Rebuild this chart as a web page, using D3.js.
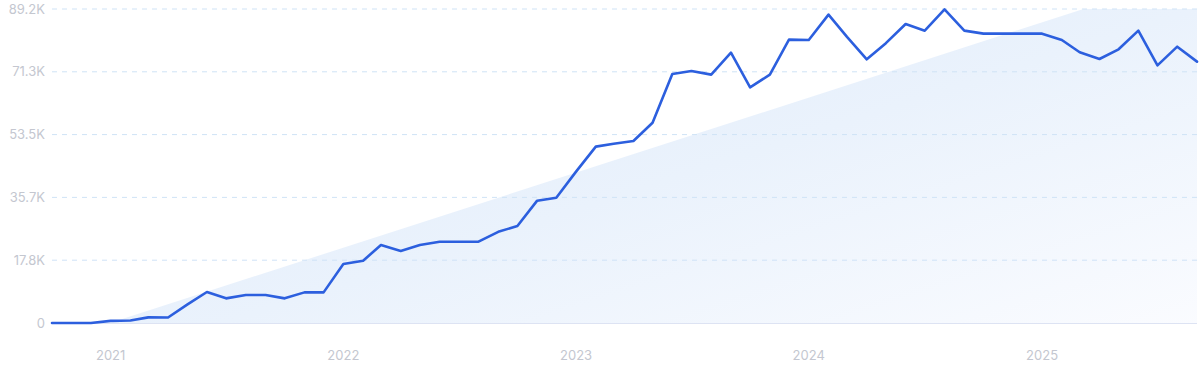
<!DOCTYPE html>
<html lang="en">
<head>
    <meta charset="UTF-8">
    <title>Trend chart</title>
    <script src="https://d3js.org/d3.v7.min.js"></script>
    <style>
        body {
            margin: 0;
            background: #fff;
            font-family: Inter, "Noto Sans", Arial, sans-serif;
        }
        .tick-label {
            fill: #c4c7d0;
            font-size: 13px;
        }
    </style>
</head>
<body>
    <div id="chart"></div>

    <script>
        // monthly values, Oct 2020 .. Sep 2025
        const startMonth = new Date(2020, 9, 1);
        const values = [
            0, 0, 0,
            600, 700, 1600, 1550, 5200, 8800, 7000, 7950, 7950, 7000, 8700, 8700,
            16760, 17700, 22150, 20450, 22150, 23100, 23100, 23100, 25900, 27550, 34750, 35600,
            43000, 50100, 50900, 51700, 56900, 70750, 71600, 70550, 76800, 66950, 70550, 80500,
            80400, 87600, 81300, 74900, 79500, 84950, 83050, 89100, 83050, 82200, 82200, 82200,
            82200, 80400, 76900, 75000, 77750, 83050, 73200, 78500, 74250
        ];
        // trend line endpoints (first and last month)
        const trendValues = [-5300, 99600];
        const yTicks = [0, 17840, 35680, 53520, 71360, 89200];
        const yTickLabels = ["0", "17.8K", "35.7K", "53.5K", "71.3K", "89.2K"];
        const xYears = [2021, 2022, 2023, 2024, 2025];

        const width = 1200, height = 372;
        const margin = {top: 9, right: 3, bottom: 49, left: 52};
        const innerW = width - margin.left - margin.right;
        const innerH = height - margin.top - margin.bottom;

        const data = values.map((v, i) => ({
            date: d3.timeMonth.offset(startMonth, i),
            value: v
        }));
        const lastDate = data[data.length - 1].date;

        const x = d3.scaleTime()
            .domain([startMonth, lastDate])
            .range([0, innerW]);
        const y = d3.scaleLinear()
            .domain([0, 89200])
            .range([innerH, 0]);

        const svg = d3.select("#chart")
            .append("svg")
            .attr("width", width)
            .attr("height", height);

        const defs = svg.append("defs");
        defs.append("clipPath").attr("id", "plot-clip")
            .append("rect")
            .attr("width", innerW)
            .attr("height", innerH);

        const grad = defs.append("linearGradient")
            .attr("id", "trend-grad")
            .attr("x1", "0").attr("y1", "0")
            .attr("x2", "1").attr("y2", "1");
        grad.append("stop").attr("offset", "0%").attr("stop-color", "#dde9fa");
        grad.append("stop").attr("offset", "55%").attr("stop-color", "#eaf2fc");
        grad.append("stop").attr("offset", "100%").attr("stop-color", "#fbfcff");

        const g = svg.append("g")
            .attr("transform", `translate(${margin.left},${margin.top})`);

        // trend area
        const trend = [
            {date: startMonth, value: trendValues[0]},
            {date: lastDate, value: trendValues[1]}
        ];
        g.append("path")
            .datum(trend)
            .attr("clip-path", "url(#plot-clip)")
            .attr("fill", "url(#trend-grad)")
            .attr("d", d3.area()
                .x(d => x(d.date))
                .y0(y(0))
                .y1(d => y(d.value)));

        // gridlines
        g.append("g")
            .selectAll("line")
            .data(yTicks.slice(1))
            .enter()
            .append("line")
            .attr("x1", 0)
            .attr("x2", innerW)
            .attr("y1", d => y(d))
            .attr("y2", d => y(d))
            .attr("stroke", "#cfe3f6")
            .attr("stroke-width", 1)
            .attr("stroke-dasharray", "5,5");

        // baseline
        g.append("line")
            .attr("x1", 0)
            .attr("x2", innerW)
            .attr("y1", y(0) + 0.5)
            .attr("y2", y(0) + 0.5)
            .attr("stroke", "#dde3f3")
            .attr("stroke-width", 1);

        // y labels
        g.append("g")
            .selectAll("text")
            .data(yTicks)
            .enter()
            .append("text")
            .attr("class", "tick-label")
            .attr("x", -7)
            .attr("y", d => y(d))
            .attr("dy", "0.35em")
            .attr("text-anchor", "end")
            .text((d, i) => yTickLabels[i]);

        // x labels
        g.append("g")
            .selectAll("text")
            .data(xYears)
            .enter()
            .append("text")
            .attr("class", "tick-label")
            .attr("x", d => x(new Date(d, 0, 1)))
            .attr("y", innerH + 32)
            .attr("dy", "0.35em")
            .attr("text-anchor", "middle")
            .text(d => d);

        // main line
        g.append("path")
            .datum(data)
            .attr("fill", "none")
            .attr("stroke", "#2c5fde")
            .attr("stroke-width", 2.6)
            .attr("stroke-linejoin", "round")
            .attr("stroke-linecap", "round")
            .attr("d", d3.line()
                .x(d => x(d.date))
                .y(d => y(d.value)));
    </script>
</body>
</html>
